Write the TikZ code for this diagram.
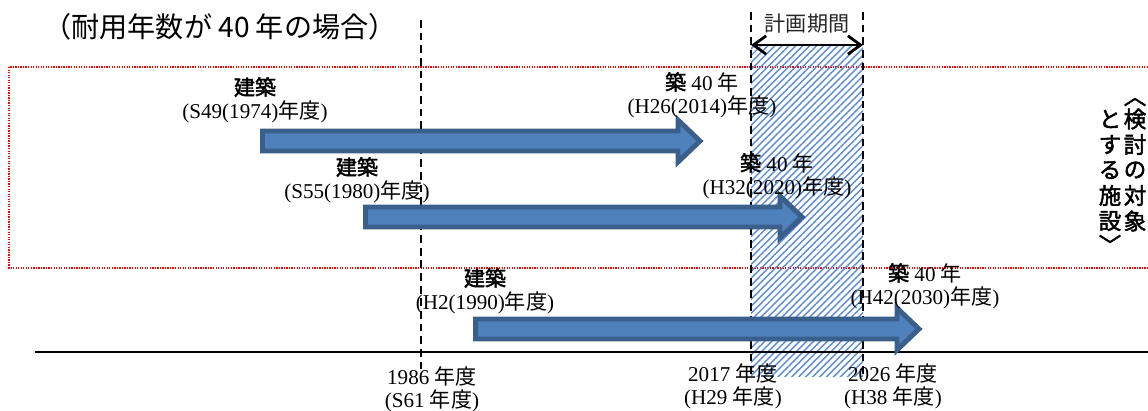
\documentclass[tikz,border=0pt]{standalone}
\usepackage{fontspec}
\setmainfont{Liberation Serif}
\newfontfamily\jpfont[AutoFakeBold=2]{Noto Sans CJK JP}
\usetikzlibrary{
    positioning,
    arrows.meta,
    patterns.meta
}

\definecolor{arrowblue}{HTML}{4F81BD}
\definecolor{arrowedge}{HTML}{3A5F8B}
\definecolor{hatchblue}{HTML}{5A8AD0}

\newcommand{\jp}[1]{{\jpfont #1}}

\begin{document}
\begin{tikzpicture}[
    x=0.025cm,
    y=-0.025cm,
    yearlabel/.style={
        align=center,
        inner sep=0pt,
        font=\fontsize{15}{16.5}\selectfont,
    },
    vchar/.style={
        inner sep=0pt,
        font=\fontsize{16}{18}\selectfont\jpfont\bfseries,
    },
    timeline/.style={
        line width=1.1pt,
        dash pattern=on 5.5pt off 3.5pt,
    },
    blockarrow/.style={
        fill=arrowblue,
        draw=arrowedge,
        line width=3.5pt,
        line join=miter,
    },
    targetbox/.style={
        draw=red,
        line width=0.9pt,
        dash pattern=on 0.9pt off 0.9pt,
    },
    planarea/.style={
        pattern={Lines[angle=45, distance=3.5pt, line width=1pt]},
        pattern color=hatchblue,
    },
    spanarrow/.style={
        line width=2pt,
        {Straight Barb[length=9pt,width=13pt]}-{Straight Barb[length=9pt,width=13pt]},
    },
]
    \useasboundingbox (0,0) rectangle (1148,410);

    \node[inner sep=0pt, font=\fontsize{20}{22}\selectfont\jpfont] (title) at (220,27) {（耐用年数が 40 年の場合）};

    % facilities to be examined
    \draw[targetbox] (1148,67) -| (9,268) -- (1148,268);
    \node[vchar, rotate=-90] (rTop) at (1135,96) {〈};
    \foreach \ch [count=\i] in {検,討,の,対,象}
        \node[vchar] (r\i) at (1135,93.5+25.5*\i) {\ch};
    \foreach \ch [count=\i] in {と,す,る,施,設}
        \node[vchar] (l\i) at (1110,93.5+25.5*\i) {\ch};
    \node[vchar, rotate=-90] (lBot) at (1110,245) {〉};

    % planning period
    \fill[planarea] (751,45) rectangle (863,376);
    \draw[timeline] (421,20) -- (421,372);
    \draw[timeline] (751,12) -- (751,378);
    \draw[timeline] (863,12) -- (863,378);
    \coordinate (planS) at (751,45);
    \coordinate (planE) at (863,45);
    \draw[spanarrow] (planS) -- (planE);
    \node[inner sep=0pt, font=\fontsize{15}{16}\selectfont\jpfont, text=black!85] (planlabel) at (807,24) {計画期間};

    \draw[line width=1.4pt] (35,352) -- (1148,352);

    \foreach \xs/\xe/\yc in {260/703/141, 363/805/217, 473/922/329}{
        \draw[blockarrow] (\xs+2.5,\yc-10) -- (\xe-25,\yc-10) -- (\xe-25,\yc-21)
            -- (\xe-3,\yc) -- (\xe-25,\yc+21) -- (\xe-25,\yc+10) -- (\xs+2.5,\yc+10) -- cycle;
    }

    \node[yearlabel] (buildA) at (255,100) {\jp{\bfseries 建築}\\(S49(1974)\jp{年度})};
    \node[yearlabel] (ageA) at (702,95) {\jp{\bfseries 築} 40 \jp{年}\\(H26(2014)\jp{年度})};
    \node[yearlabel] (buildB) at (357,180) {\jp{\bfseries 建築}\\(S55(1980)\jp{年度})};
    \node[yearlabel] (ageB) at (777,176) {\jp{\bfseries 築} 40 \jp{年}\\(H32(2020)\jp{年度})};
    \node[yearlabel] (buildC) at (485,291) {\jp{\bfseries 建築}\\(H2(1990)\jp{年度})};
    \node[yearlabel] (ageC) at (925,286) {\jp{\bfseries 築} 40 \jp{年}\\(H42(2030)\jp{年度})};

    \node[yearlabel] (yr1986) at (432,389) {1986 \jp{年度}\\(S61 \jp{年度})};
    \node[yearlabel] (yr2017) at (733,386) {2017 \jp{年度}\\(H29 \jp{年度})};
    \node[yearlabel] (yr2026) at (893,386) {2026 \jp{年度}\\(H38 \jp{年度})};

\end{tikzpicture}
\end{document}
